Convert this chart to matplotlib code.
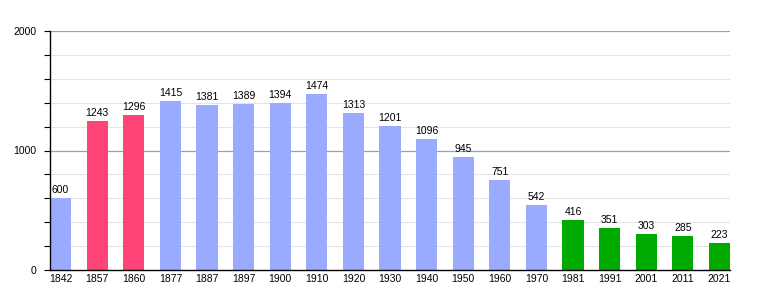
import matplotlib.pyplot as plt
import numpy as np

years = ["1842", "1857", "1860", "1877", "1887", "1897", "1900", "1910", "1920", "1930",
         "1940", "1950", "1960", "1970", "1981", "1991", "2001", "2011", "2021"]
population = [600, 1243, 1296, 1415, 1381, 1389, 1394, 1474, 1313, 1201,
              1096, 945, 751, 542, 416, 351, 303, 285, 223]
# colour group per bar: 0 = blue, 1 = pink, 2 = green
groups = [0, 1, 1, 0, 0, 0, 0, 0, 0, 0, 0, 0, 0, 0, 2, 2, 2, 2, 2]
palette = {0: "#99aaff", 1: "#ff4477", 2: "#00aa00"}

plt.rcParams['font.family'] = ['Liberation Sans', 'DejaVu Sans']

fig = plt.figure(figsize=(7.6, 3.0), dpi=100)
ax = fig.add_axes([50 / 760, 30 / 300, 680 / 760, 239 / 300])

x = np.arange(len(years))
ax.bar(x, population, width=0.58, color=[palette[g] for g in groups], zorder=3)

for xi, v in zip(x, population):
    ax.text(xi, v + 25, str(v), ha="center", va="bottom", fontsize=7.5, zorder=4)

ax.set_xlim(-0.29, len(years) - 0.71)
ax.set_ylim(0, 2000)

ax.set_yticks([0, 1000, 2000])
ax.set_yticks(np.arange(0, 2001, 200), minor=True)
for yv in np.arange(200, 2001, 200):
    if yv % 1000 == 0:
        ax.axhline(yv, color="#a0a0a0", lw=0.9, zorder=1)
    else:
        ax.axhline(yv, color="#e4e4e4", lw=0.8, zorder=1)

ax.set_xticks(x)
ax.set_xticklabels(years)
ax.tick_params(axis="x", length=0, labelsize=7.5, pad=3)
ax.tick_params(axis="y", which="major", length=4, labelsize=7.5, width=0.8, pad=5.5)
ax.tick_params(axis="y", which="minor", length=4, width=0.8)

for s in ["top", "right"]:
    ax.spines[s].set_visible(False)
ax.spines["left"].set_linewidth(1.0)
ax.spines["bottom"].set_linewidth(1.0)
ax.spines["left"].set_zorder(5)
ax.spines["bottom"].set_zorder(5)

fig.savefig("out.png", dpi=100)
